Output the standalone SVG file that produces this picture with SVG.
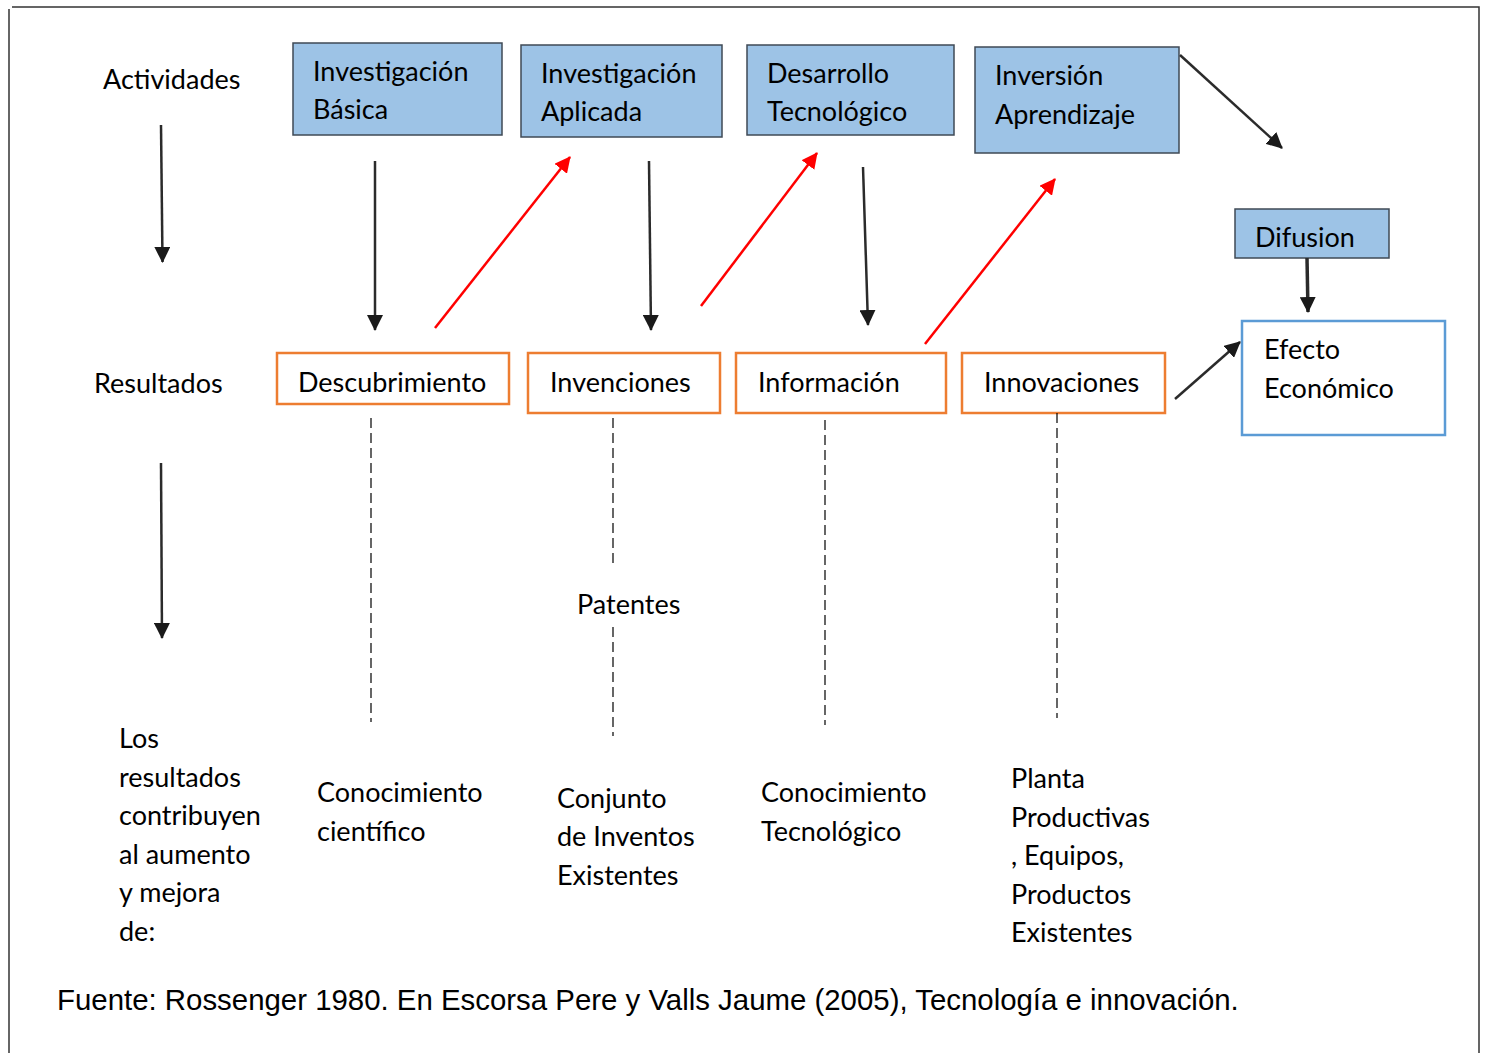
<svg xmlns="http://www.w3.org/2000/svg" width="1485" height="1053" viewBox="0 0 1485 1053">
<defs>
<style>
text{font-family:Lato,"Open Sans",sans-serif;font-size:27px;fill:#000}
.act{fill:#9DC3E6;stroke:#3f4a55;stroke-width:1.5}
.res{fill:#fff;stroke:#ED7D31;stroke-width:2.5}
.blk{stroke:#2b2b2b;stroke-width:2.5;fill:none;marker-end:url(#ab)}
.red{stroke:#FF0000;stroke-width:2.5;fill:none;marker-end:url(#ar)}
.dash{stroke:#000;stroke-width:1.2;stroke-dasharray:10 5;fill:none}
.src{font-family:"Liberation Sans",Arial,sans-serif;font-size:29.4px}
</style>
<marker id="ab" viewBox="0 0 16 16" refX="15" refY="8" markerWidth="16" markerHeight="16" markerUnits="userSpaceOnUse" orient="auto"><path d="M0,0 L16,8 L0,16 z" fill="#1a1a1a"/></marker>
<marker id="ar" viewBox="0 0 16 16" refX="15" refY="8" markerWidth="16" markerHeight="16" markerUnits="userSpaceOnUse" orient="auto"><path d="M0,0 L16,8 L0,16 z" fill="#FF0000"/></marker>
</defs>
<rect width="1485" height="1053" fill="#fff"/>
<g id="frame" stroke="#333" stroke-width="1.5" fill="none">
<path d="M12,7 H1479 V1053"/>
<path d="M9,9 V1053"/>
</g>
<g id="labels">
<text x="103" y="89">Actividades</text>
<text x="94" y="393">Resultados</text>
</g>
<g id="n-ib"><rect class="act" x="293" y="43" width="209" height="92"/><text x="313" y="81">Investigación</text><text x="313" y="119">Básica</text></g>
<g id="n-ia"><rect class="act" x="521" y="45" width="201" height="92"/><text x="541" y="83">Investigación</text><text x="541" y="121">Aplicada</text></g>
<g id="n-dt"><rect class="act" x="747" y="45" width="207" height="90"/><text x="767" y="83">Desarrollo</text><text x="767" y="121">Tecnológico</text></g>
<g id="n-inv"><rect class="act" x="975" y="47" width="204" height="106"/><text x="995" y="85">Inversión</text><text x="995" y="124">Aprendizaje</text></g>
<g id="n-dif"><rect class="act" x="1235" y="209" width="154" height="49"/><text x="1255" y="247">Difusion</text></g>
<g id="n-efe"><rect x="1242" y="321" width="203" height="114" fill="#fff" stroke="#5B9BD5" stroke-width="2.5"/><text x="1264" y="359">Efecto</text><text x="1264" y="398">Económico</text></g>
<g id="n-des"><rect class="res" x="277" y="353" width="232" height="51"/><text x="298" y="392">Descubrimiento</text></g>
<g id="n-inc"><rect class="res" x="528" y="353" width="192" height="60"/><text x="550" y="392">Invenciones</text></g>
<g id="n-inf"><rect class="res" x="736" y="353" width="210" height="60"/><text x="758" y="392">Información</text></g>
<g id="n-inn"><rect class="res" x="962" y="353" width="203" height="60"/><text x="984" y="392">Innovaciones</text></g>
<g id="connectors">
<line class="blk" x1="161" y1="125" x2="162.5" y2="262"/>
<line class="blk" x1="161" y1="463" x2="162" y2="638"/>
<line class="blk" x1="375" y1="161" x2="375" y2="330"/>
<line class="blk" x1="649" y1="161" x2="651" y2="330"/>
<line class="blk" x1="863" y1="167" x2="868" y2="325"/>
<line class="blk" x1="1307" y1="258" x2="1308" y2="312" style="stroke-width:3.5"/>
<line class="blk" x1="1180" y1="55" x2="1282" y2="148"/>
<line class="blk" x1="1175" y1="399" x2="1240" y2="342"/>
<line class="red" x1="435" y1="328" x2="570" y2="157"/>
<line class="red" x1="701" y1="306" x2="817" y2="153"/>
<line class="red" x1="925" y1="344" x2="1055" y2="179"/>
<line class="dash" x1="371" y1="418" x2="371" y2="722"/>
<line class="dash" x1="613" y1="418" x2="613" y2="567"/>
<line class="dash" x1="613" y1="627" x2="613" y2="736"/>
<line class="dash" x1="825" y1="420" x2="825" y2="725"/>
<line class="dash" x1="1057" y1="413" x2="1057" y2="718"/>
</g>
<g id="texts">
<text x="577" y="614">Patentes</text>
<text x="119" y="748">Los</text>
<text x="119" y="787">resultados</text>
<text x="119" y="825">contribuyen</text>
<text x="119" y="864">al aumento</text>
<text x="119" y="902">y mejora</text>
<text x="119" y="941">de:</text>
<text x="317" y="802">Conocimiento</text>
<text x="317" y="841">científico</text>
<text x="557" y="808">Conjunto</text>
<text x="557" y="846">de Inventos</text>
<text x="557" y="885">Existentes</text>
<text x="761" y="802">Conocimiento</text>
<text x="761" y="841">Tecnológico</text>
<text x="1011" y="788">Planta</text>
<text x="1011" y="827">Productivas</text>
<text x="1011" y="865">, Equipos,</text>
<text x="1011" y="904">Productos</text>
<text x="1011" y="942">Existentes</text>
<text class="src" x="57" y="1010">Fuente: Rossenger 1980. En Escorsa Pere y Valls Jaume (2005), Tecnología e innovación.</text>
</g>
</svg>
